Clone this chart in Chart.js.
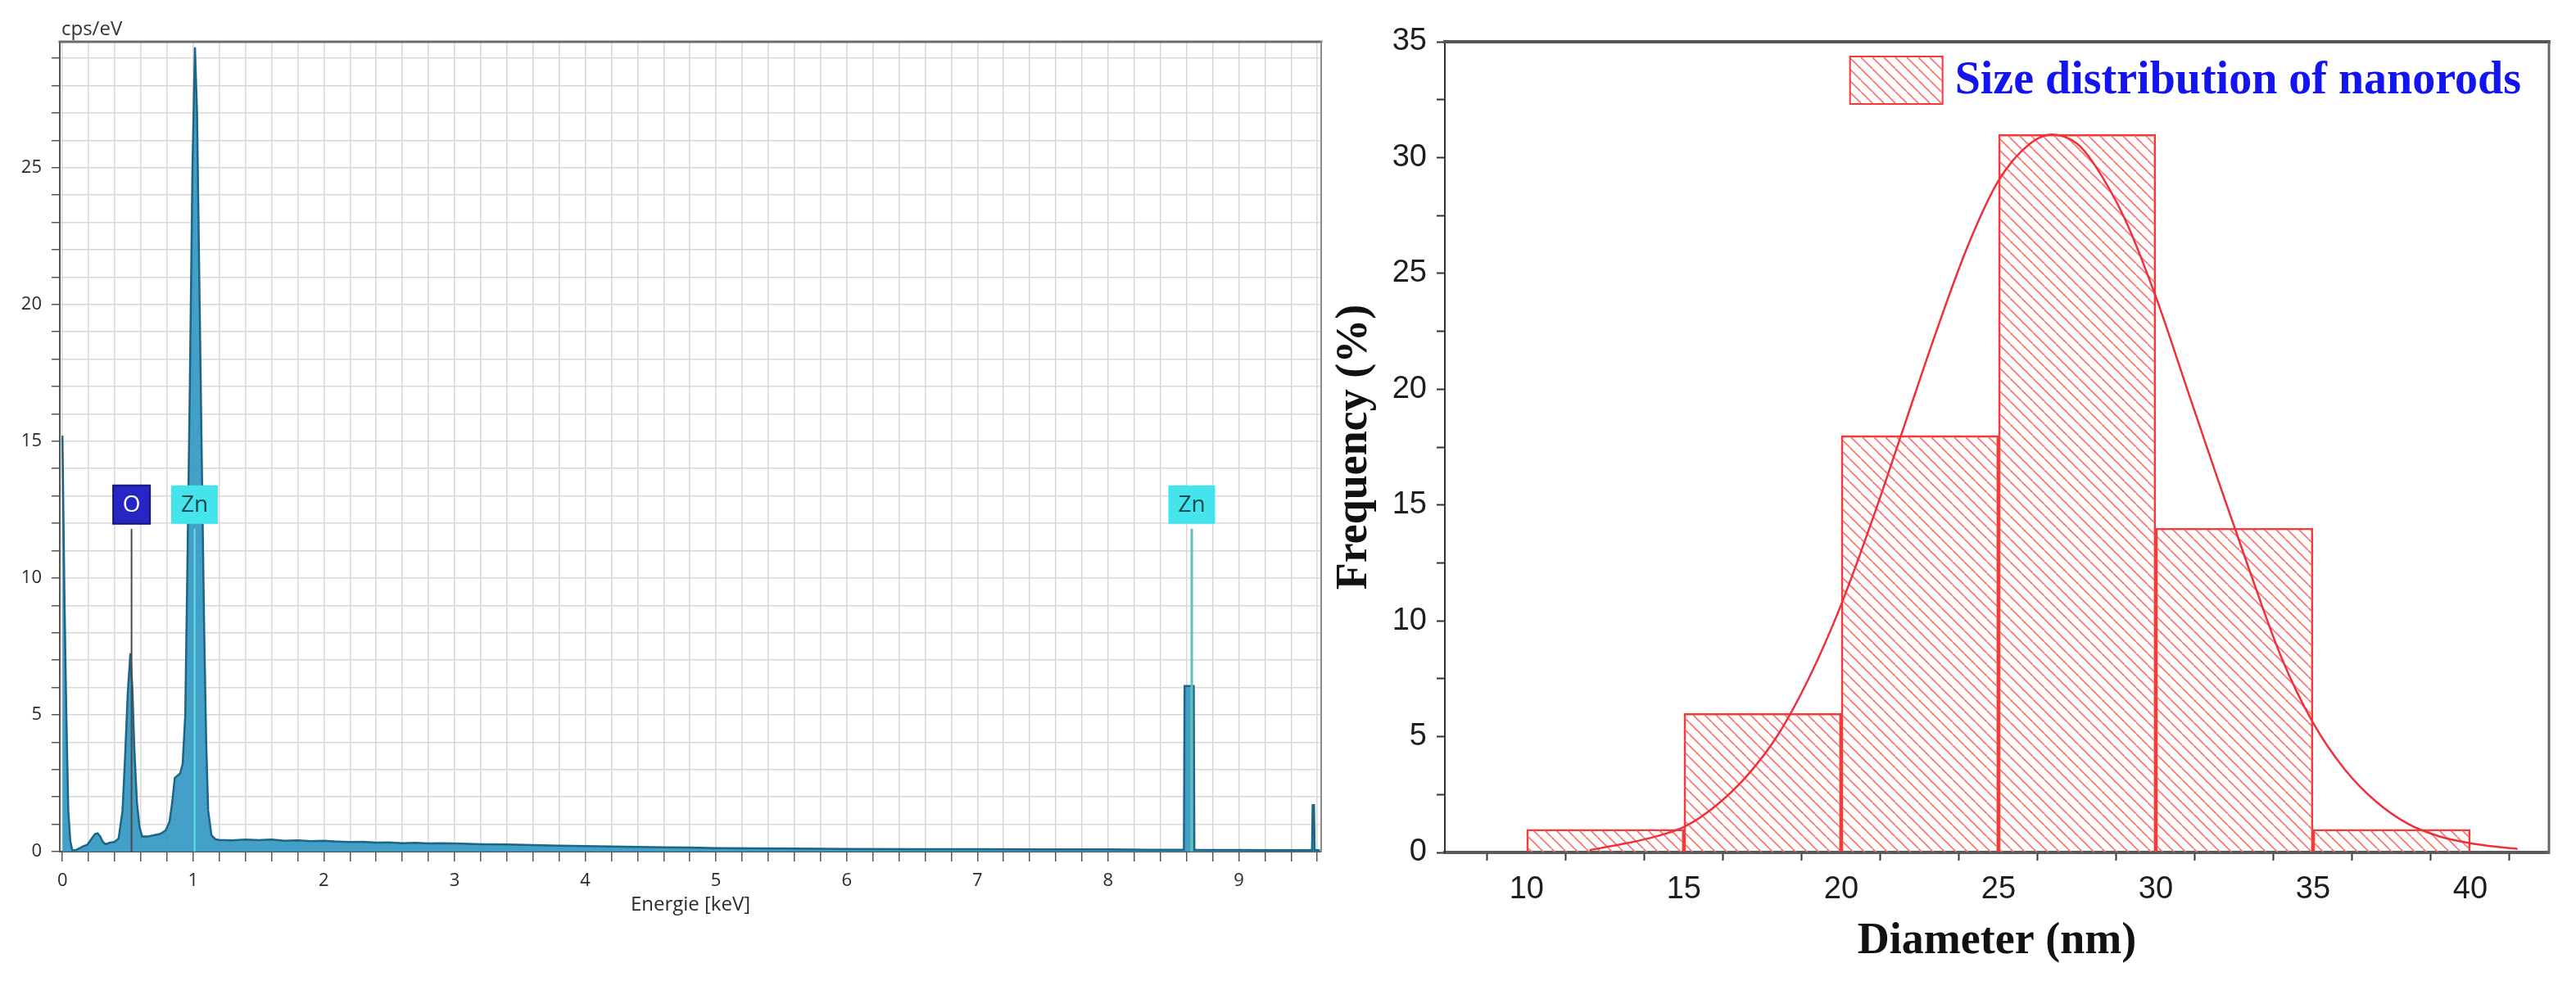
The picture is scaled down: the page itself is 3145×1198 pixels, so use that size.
<!DOCTYPE html>
<html>
<head>
<meta charset="utf-8">
<script src="https://cdn.jsdelivr.net/npm/chart.js@4.4.1/dist/chart.umd.min.js"></script>
<style>
  html, body { margin: 0; padding: 0; background: #fff; }
  body { width: 3145px; height: 1198px; position: relative; overflow: hidden; }
  .panel { position: absolute; top: 0; height: 1198px; }
  #edsBox { left: 0; width: 1640px; }
  #histBox { left: 1600px; width: 1545px; }
</style>
</head>
<body>
<div id="edsBox" class="panel"><canvas id="eds" width="1640" height="1198"></canvas></div>
<div id="histBox" class="panel"><canvas id="hist" width="1545" height="1198"></canvas></div>
<script>
// ---- EDS spectrum (left) ----
const energyKeV = [
  0.00, 0.015, 0.03, 0.045, 0.06, 0.075, 0.10, 0.13, 0.16, 0.19,
  0.22, 0.25, 0.27, 0.29, 0.31, 0.33, 0.36, 0.40, 0.43, 0.46,
  0.48, 0.50, 0.52, 0.535, 0.55, 0.57, 0.59, 0.61, 0.65, 0.70,
  0.75, 0.79, 0.82, 0.84, 0.86, 0.90, 0.92, 0.94, 0.955, 0.975,
  0.995, 1.014, 1.03, 1.05, 1.07, 1.085, 1.10, 1.115, 1.14, 1.17,
  1.2, 1.3, 1.4, 1.5, 1.6, 1.7, 1.8, 1.9, 2.0, 2.1,
  2.2, 2.3, 2.4, 2.5, 2.6, 2.7, 2.8, 2.9, 3.0, 3.2,
  3.4, 3.6, 3.8, 4.0, 4.2, 4.4, 4.6, 4.8, 5.0, 5.3,
  5.6, 6.0, 6.5, 7.0, 7.5, 8.0, 8.3, 8.58, 8.585, 8.655,
  8.66, 9.0, 9.3, 9.56, 9.565, 9.575, 9.58, 9.62
];
const cpsPerEV = [
  15.2, 9.5, 5.0, 1.5, 0.4, 0.05, 0.05, 0.12, 0.2, 0.25,
  0.45, 0.65, 0.67, 0.55, 0.35, 0.27, 0.32, 0.36, 0.48, 1.5,
  3.5, 5.8, 7.25, 6.0, 3.8, 1.8, 0.9, 0.55, 0.55, 0.6,
  0.65, 0.78, 1.1, 1.8, 2.7, 2.85, 3.2, 5.0, 10, 17,
  25, 29.4, 27, 20, 13, 8, 4, 1.5, 0.6, 0.45,
  0.43, 0.41, 0.44, 0.42, 0.44, 0.40, 0.41, 0.38, 0.40, 0.37,
  0.35, 0.36, 0.33, 0.34, 0.31, 0.32, 0.30, 0.31, 0.30, 0.27,
  0.26, 0.24, 0.22, 0.20, 0.19, 0.17, 0.16, 0.15, 0.13, 0.12,
  0.11, 0.10, 0.09, 0.09, 0.08, 0.08, 0.07, 0.07, 6.05, 6.05,
  0.07, 0.06, 0.05, 0.05, 1.7, 1.7, 0.05, 0.05
];
const peakNames = ['O', 'Zn', 'Zn'];
const peakEnergy = [0.529, 1.011, 8.640];
const peakLineTop = [11.8, 11.8, 11.8];

// ---- size histogram (right) ----
const binStart = [10, 15, 20, 25, 30, 35];
const binFreq = [1, 6, 18, 31, 14, 1];
const binWidth = 5;
const fitDiameter = [12, 13, 14, 15, 16, 17, 18, 19, 20, 21, 22, 23, 24, 25, 26, 26.7,
  27.5, 28, 29, 30, 31, 32, 33, 34, 35, 36, 37, 38, 39, 40, 41, 41.5];
const fitFreq = [0.1, 0.35, 0.65, 1.1, 2.0, 3.3, 5.1, 7.6, 10.7, 14.4, 18.4, 22.4, 26.1, 29.0, 30.6, 31.0,
  30.6, 29.8, 27.4, 24.0, 20.0, 16.0, 12.1, 8.4, 5.6, 3.6, 2.2, 1.25, 0.7, 0.4, 0.22, 0.15];

// ---------- plugins ----------
const frameLines = {
  id: 'frame',
  afterDraw(chart, args, opts) {
    const { ctx, chartArea: a } = chart;
    ctx.save();
    ctx.lineCap = 'square';
    ctx.strokeStyle = opts.topColor;
    ctx.lineWidth = opts.topWidth;
    ctx.beginPath(); ctx.moveTo(a.left, a.top); ctx.lineTo(a.right, a.top); ctx.stroke();
    ctx.strokeStyle = opts.rightColor;
    ctx.lineWidth = opts.rightWidth;
    ctx.beginPath(); ctx.moveTo(a.right, a.top); ctx.lineTo(a.right, a.bottom); ctx.stroke();
    ctx.restore();
  }
};

const peakLabels = {
  id: 'peakLabels',
  afterDatasetsDraw(chart) {
    const { ctx, scales: { x, y }, chartArea } = chart;
    ctx.save();
    ctx.textAlign = 'center';
    ctx.textBaseline = 'middle';
    ctx.font = '28px "Open Sans"';
    peakNames.forEach((name, i) => {
      const cx = x.getPixelForValue(peakEnergy[i]);
      const bottom = y.getPixelForValue(peakLineTop[i]) - 6;
      const w = name === 'O' ? 45 : 57;
      const h = 47;
      ctx.fillStyle = name === 'O' ? '#2626c4' : '#44e4ec';
      ctx.fillRect(cx - w / 2, bottom - h, w, h);
      if (name === 'O') {
        ctx.strokeStyle = '#16167a';
        ctx.lineWidth = 2;
        ctx.strokeRect(cx - w / 2, bottom - h, w, h);
      }
      ctx.fillStyle = name === 'O' ? '#ffffff' : '#18484e';
      ctx.fillText(name, cx, bottom - h / 2 + 1);
    });
    // unit label above the y axis
    ctx.textAlign = 'left';
    ctx.fillStyle = '#333';
    ctx.font = '24px "Open Sans"';
    ctx.fillText('cps/eV', chartArea.left + 2, 36);
    ctx.restore();
  }
};

const insideLegend = {
  id: 'insideLegend',
  afterDraw(chart) {
    const ds = chart.data.datasets[0];
    const { ctx, chartArea } = chart;
    const boxW = 113, boxH = 58;
    ctx.save();
    ctx.font = 'bold 56px "Liberation Serif"';
    const textW = ctx.measureText(ds.label).width;
    const textX = chartArea.right - 34 - textW;
    const boxX = textX - 15 - boxW;
    const boxY = chartArea.top + 18;
    ctx.fillStyle = ds.backgroundColor;
    ctx.fillRect(boxX, boxY, boxW, boxH);
    ctx.strokeStyle = ds.borderColor;
    ctx.lineWidth = 2;
    ctx.strokeRect(boxX, boxY, boxW, boxH);
    ctx.fillStyle = '#1414ee';
    ctx.textAlign = 'left';
    ctx.textBaseline = 'middle';
    ctx.fillText(ds.label, textX, boxY + boxH / 2 + 2);
    ctx.restore();
  }
};

// diagonal hatch for the histogram bars
const makeHatch = () => {
  const s = 14;
  const tile = document.createElement('canvas');
  tile.width = s; tile.height = s;
  const c = tile.getContext('2d');
  c.strokeStyle = '#ff6e6e';
  c.lineWidth = 1.6;
  [-s, 0, s].forEach((k) => {
    c.beginPath(); c.moveTo(k, 0); c.lineTo(k + s, s); c.stroke();
  });
  return tile.getContext('2d').createPattern(tile, 'repeat');
};

// ---------- left: EDS ----------
const markerSet = (i) => ({
  data: [{ x: peakEnergy[i], y: 0 }, { x: peakEnergy[i], y: peakLineTop[i] }],
  borderColor: i === 0 ? '#4a4a4a' : (i === 1 ? '#5fe3ea' : '#63c0c0'),
  borderWidth: i === 2 ? 3 : 2,
  pointRadius: 0,
  fill: false,
  order: 0
});

const edsTickFont = { family: 'Open Sans', size: 22 };

new Chart(document.getElementById('eds'), {
  type: 'line',
  data: {
    datasets: [
      {
        label: 'spectrum',
        data: energyKeV.map((e, i) => ({ x: e, y: cpsPerEV[i] })),
        borderColor: '#1c6586',
        borderWidth: 2.5,
        backgroundColor: 'rgba(52, 152, 194, 0.92)',
        fill: 'origin',
        pointRadius: 0,
        tension: 0,
        order: 1
      },
      markerSet(0), markerSet(1), markerSet(2)
    ]
  },
  options: {
    responsive: false,
    animation: false,
    events: [],
    layout: { padding: { left: 0, top: 51, right: 27, bottom: 0 } },
    plugins: {
      legend: { display: false },
      tooltip: { enabled: false },
      frame: { topColor: '#6a6a6a', topWidth: 3, rightColor: '#8a8a8a', rightWidth: 2 }
    },
    scales: {
      x: {
        type: 'linear',
        min: -0.02,
        max: 9.63,
        afterFit: (scale) => { scale.height = 158; },
        grid: { color: '#d8d8d8', lineWidth: 1.5, tickColor: '#555', tickLength: 12, tickWidth: 1.5 },
        border: { color: '#555', width: 2 },
        ticks: {
          stepSize: 0.2,
          includeBounds: false,
          autoSkip: false,
          maxRotation: 0,
          padding: 11,
          color: '#2a2a2a',
          font: edsTickFont,
          callback: (v) => (Math.abs(v - Math.round(v)) < 1e-6 ? String(Math.round(v)) : '')
        },
        title: {
          display: true,
          text: 'Energie [keV]',
          color: '#2a2a2a',
          font: { family: 'Open Sans', size: 24 },
          padding: { top: 0, bottom: 78 }
        }
      },
      y: {
        type: 'linear',
        min: 0,
        max: 29.6,
        afterFit: (scale) => { scale.width = 73; },
        grid: { color: '#d8d8d8', lineWidth: 1.5, tickColor: '#555', tickLength: 10, tickWidth: 1.5 },
        border: { color: '#555', width: 2 },
        ticks: {
          stepSize: 1,
          includeBounds: false,
          autoSkip: false,
          padding: 12,
          color: '#2a2a2a',
          font: edsTickFont,
          callback: (v) => (v % 5 === 0 ? String(v) : '')
        }
      }
    }
  },
  plugins: [frameLines, peakLabels]
});

// ---------- right: size distribution ----------
new Chart(document.getElementById('hist'), {
  type: 'bar',
  data: {
    datasets: [
      {
        type: 'bar',
        label: 'Size distribution of nanorods',
        data: binStart.map((b, i) => ({ x: b + binWidth / 2, y: binFreq[i] })),
        backgroundColor: makeHatch(),
        borderColor: '#f23a3a',
        borderWidth: 2,
        borderSkipped: 'start',
        barThickness: 'flex',
        barPercentage: 1,
        categoryPercentage: 1,
        order: 1
      },
      {
        type: 'line',
        label: 'Gauss fit',
        data: fitDiameter.map((d, i) => ({ x: d, y: fitFreq[i] })),
        borderColor: '#ee2f3c',
        borderWidth: 2.5,
        pointRadius: 0,
        fill: false,
        cubicInterpolationMode: 'monotone',
        order: 0
      }
    ]
  },
  options: {
    responsive: false,
    animation: false,
    events: [],
    layout: { padding: { left: 0, top: 51, right: 33, bottom: 0 } },
    plugins: {
      legend: { display: false },
      tooltip: { enabled: false },
      frame: { topColor: '#555', topWidth: 4, rightColor: '#666', rightWidth: 3 }
    },
    scales: {
      x: {
        type: 'linear',
        offset: false,
        min: 7.4,
        max: 42.5,
        afterFit: (scale) => { scale.height = 157; },
        grid: { drawOnChartArea: false, tickColor: '#333', tickLength: 10, tickWidth: 2 },
        border: { color: '#5a5a5a', width: 4 },
        ticks: {
          stepSize: 2.5,
          includeBounds: false,
          autoSkip: false,
          maxRotation: 0,
          padding: 13,
          color: '#1e1e1e',
          font: { family: 'Liberation Sans', size: 38 },
          callback: (v) => (v % 5 === 0 ? String(v) : '')
        },
        title: {
          display: true,
          text: 'Diameter (nm)',
          color: '#111',
          font: { family: 'Liberation Serif', size: 54, weight: 'bold' },
          padding: { top: 0, bottom: 16 }
        }
      },
      y: {
        type: 'linear',
        min: 0,
        max: 35,
        afterFit: (scale) => { scale.width = 164; },
        grid: { drawOnChartArea: false, tickColor: '#333', tickLength: 10, tickWidth: 2 },
        border: { color: '#333', width: 2 },
        ticks: {
          stepSize: 2.5,
          includeBounds: false,
          autoSkip: false,
          padding: 12,
          color: '#1e1e1e',
          font: { family: 'Liberation Sans', size: 38 },
          callback: (v) => (v % 5 === 0 ? String(v) : '')
        },
        title: {
          display: true,
          text: 'Frequency (%)',
          color: '#111',
          font: { family: 'Liberation Serif', size: 54, weight: 'bold' },
          padding: { top: 22, bottom: 0 }
        }
      }
    }
  },
  plugins: [frameLines, insideLegend]
});
</script>
</body>
</html>
